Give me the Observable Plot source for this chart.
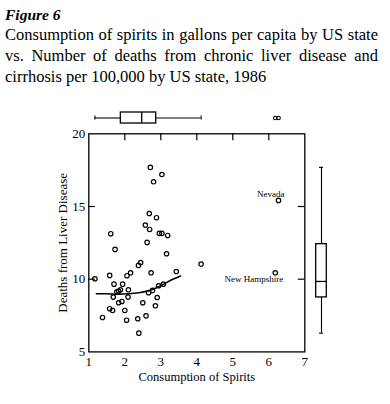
<!DOCTYPE html>
<html><head><meta charset="utf-8">
<script src="https://cdn.jsdelivr.net/npm/d3@7"></script>
<script src="https://cdn.jsdelivr.net/npm/@observablehq/plot@0.6"></script>
<style>
body{margin:0;background:#fff;}
#wrap{position:relative;width:390px;height:404px;font-family:"Liberation Serif","Times New Roman",serif;color:#000;overflow:hidden}
#fig{position:absolute;left:5px;top:6px;font-size:15.5px;font-weight:bold;font-style:italic;line-height:18px;}
#sub{position:absolute;left:5px;top:24px;width:373px;font-size:16.5px;line-height:21px;}
#sub div{white-space:nowrap}
#sub div.j{text-align:justify;text-align-last:justify;white-space:normal}
#main{position:absolute;left:0;top:95px;}
#topbox{position:absolute;left:0;top:110px}
#rightbox{position:absolute;left:313px;top:95px}
svg{background:transparent !important}
</style>
</head>
<body>
<div id="wrap">
  <div id="fig">Figure 6</div>
  <div id="sub">
    <div class="j">Consumption of spirits in gallons per capita by US state</div>
    <div class="j">vs. Number of deaths from chronic liver disease and</div>
    <div>cirrhosis per 100,000 by US state, 1986</div>
  </div>
  <div id="main"></div>
  <div id="topbox"></div>
  <div id="rightbox"></div>
</div>
<script>
// Data (one value per US state)
const spirits = [2.71, 3.03, 2.80, 6.27, 2.68, 2.88, 2.57, 2.69, 2.96, 3.03, 3.19, 1.61, 2.62, 1.73, 3.16, 2.44, 2.38, 4.12, 3.43, 2.73, 2.16, 2.06, 1.58, 1.17, 6.18, 1.70, 1.94, 3.07, 2.94, 2.10, 1.88, 1.78, 1.83, 2.77, 2.66, 1.68, 2.09, 2.90, 1.92, 1.83, 2.50, 2.85, 1.58, 1.66, 2.00, 1.38, 2.59, 2.36, 2.05, 2.39];
const deaths = [17.69, 17.2, 16.7, 15.42, 14.52, 14.23, 13.72, 13.42, 13.15, 13.15, 13.01, 13.13, 12.53, 12.05, 11.75, 11.15, 10.95, 11.04, 10.53, 10.44, 10.44, 10.24, 10.26, 10.03, 10.44, 9.66, 9.66, 9.66, 9.55, 9.27, 9.27, 9.13, 9.18, 9.23, 9.07, 8.77, 8.77, 8.74, 8.47, 8.38, 8.38, 8.17, 7.97, 7.85, 7.85, 7.37, 7.48, 7.28, 7.18, 6.29];
// smoothed curve
const smoothX = [1.21, 1.46, 1.83, 2.11, 2.39, 2.62, 2.85, 3.08, 3.32, 3.55];
const smoothY = [9.0, 9.0, 8.97, 9.0, 9.07, 9.18, 9.38, 9.66, 9.98, 10.22];
// labelled states
const labelNames = ["Nevada", "New Hampshire"];
const labelSpirits = [6.27, 6.18];
const labelDeaths = [15.42, 10.44];
// ticks
const xTicks = [1, 2, 3, 4, 5, 6, 7];
const yTicks = [5, 10, 15, 20];
const xInnerTicks = [2, 3, 4, 5, 6];
const yInnerTicks = [10, 15];
const xLabel = "Consumption of Spirits";
const yLabel = "Deaths from Liver Disease";

const points = spirits.map((s, i) => ({x: s, y: deaths[i]}));
const smooth = smoothX.map((s, i) => ({x: s, y: smoothY[i]}));
const labels = labelNames.map((n, i) => ({name: n, x: labelSpirits[i], y: labelDeaths[i]}));

function boxStats(v) {
  const s = [...v].sort(d3.ascending);
  const q1 = d3.quantile(s, 0.25), med = d3.quantile(s, 0.5), q3 = d3.quantile(s, 0.75);
  const iqr = q3 - q1;
  const lo = d3.min(s.filter(d => d >= q1 - 1.5 * iqr));
  const hi = d3.max(s.filter(d => d <= q3 + 1.5 * iqr));
  return {q1, med, q3, lo, hi, out: s.filter(d => d < lo || d > hi)};
}

const FONT = "'Liberation Serif','Times New Roman',serif";
const W = 390, H = 309, mL = 88.3, mR = 85.7, mT = 38.3, mB = 52.6;
const frameW = W - mL - mR, frameH = H - mT - mB;

const main = Plot.plot({
  width: W, height: H,
  marginLeft: mL, marginRight: mR, marginTop: mT, marginBottom: mB,
  style: {fontFamily: FONT, fontSize: "13px", color: "black", background: "transparent", overflow: "visible"},
  x: {domain: [1, 7]},
  y: {domain: [5, 20]},
  marks: [
    Plot.axisX(xTicks, {anchor: "bottom", tickSize: 0, tickPadding: 5, label: null, fontSize: 13}),
    Plot.axisY(yTicks, {anchor: "left", tickSize: 0, tickPadding: 3.5, label: null, fontSize: 13}),
    Plot.tickX(xInnerTicks, {x: d => d, insetBottom: frameH - 7, stroke: "black", strokeWidth: 1.2}),
    Plot.tickY(yInnerTicks, {y: d => d, insetRight: frameW - 6.5, stroke: "black", strokeWidth: 1.2}),
    Plot.tickY(yInnerTicks, {y: d => d, insetLeft: frameW - 6.5, stroke: "black", strokeWidth: 1.2}),
    Plot.frame({stroke: "black", strokeWidth: 1.3}),
    Plot.text([xLabel], {text: d => d, frameAnchor: "bottom", textAnchor: "middle", dy: 29, lineAnchor: "bottom", fontSize: 12.5, fill: "black"}),
    Plot.text([yLabel], {text: d => d, frameAnchor: "left", textAnchor: "middle", rotate: -90, dx: -22.3, lineAnchor: "bottom", fontSize: 13, fill: "black"}),
    Plot.line(smooth, {x: "x", y: "y", stroke: "black", strokeWidth: 1.6, curve: "monotone-x"}),
    Plot.dot(points, {x: "x", y: "y", r: 2.2, stroke: "black", strokeWidth: 1.2, fill: "none"}),
    Plot.text([labels[0]], {x: "x", y: "y", text: "name", textAnchor: "end", lineAnchor: "bottom", dx: 6, dy: -3.3, fontSize: 9, fill: "black"}),
    Plot.text([labels[1]], {x: "x", y: "y", text: "name", textAnchor: "end", lineAnchor: "bottom", dx: 8, dy: 9.4, fontSize: 9, fill: "black"})
  ]
});
document.getElementById("main").append(main);

// Top box plot for spirits
const sx = boxStats(spirits);
const topBox = Plot.plot({
  width: W, height: 15,
  marginLeft: mL, marginRight: mR, marginTop: 0, marginBottom: 0,
  style: {background: "transparent", overflow: "visible"},
  x: {domain: [1, 7], axis: null},
  y: {type: "band", domain: ["s"], padding: 0, axis: null},
  marks: [
    Plot.ruleY([sx], {y: () => "s", x1: "lo", x2: "q1", stroke: "black", strokeWidth: 1.1}),
    Plot.ruleY([sx], {y: () => "s", x1: "q3", x2: "hi", stroke: "black", strokeWidth: 1.1}),
    Plot.barX([sx], {y: () => "s", x1: "q1", x2: "q3", fill: "white", stroke: "black", strokeWidth: 1.3, insetTop: 2, insetBottom: 2}),
    Plot.tickX([sx], {y: () => "s", x: "med", stroke: "black", strokeWidth: 1.3, insetTop: 2, insetBottom: 2}),
    Plot.tickX([sx], {y: () => "s", x: "lo", stroke: "black", strokeWidth: 1.1, insetTop: 5.5, insetBottom: 5.5}),
    Plot.tickX([sx], {y: () => "s", x: "hi", stroke: "black", strokeWidth: 1.1, insetTop: 5.5, insetBottom: 5.5}),
    Plot.dot(sx.out, {x: d => d, y: () => "s", r: 1.8, stroke: "black", strokeWidth: 1.1, fill: "none"})
  ]
});
document.getElementById("topbox").append(topBox);

// Right box plot for deaths
const sy = boxStats(deaths);
const rightBox = Plot.plot({
  width: 16, height: H,
  marginLeft: 0, marginRight: 0, marginTop: mT, marginBottom: mB,
  style: {background: "transparent", overflow: "visible"},
  y: {domain: [5, 20], axis: null},
  x: {type: "band", domain: ["d"], padding: 0, axis: null},
  marks: [
    Plot.ruleX([sy], {x: () => "d", y1: "lo", y2: "q1", stroke: "black", strokeWidth: 1.1}),
    Plot.ruleX([sy], {x: () => "d", y1: "q3", y2: "hi", stroke: "black", strokeWidth: 1.1}),
    Plot.barY([sy], {x: () => "d", y1: "q1", y2: "q3", fill: "white", stroke: "black", strokeWidth: 1.3, insetLeft: 2.7, insetRight: 2.7}),
    Plot.tickY([sy], {x: () => "d", y: "med", stroke: "black", strokeWidth: 1.3, insetLeft: 2.7, insetRight: 2.7}),
    Plot.tickY([sy], {x: () => "d", y: "lo", stroke: "black", strokeWidth: 1.1, insetLeft: 6, insetRight: 6}),
    Plot.tickY([sy], {x: () => "d", y: "hi", stroke: "black", strokeWidth: 1.1, insetLeft: 6, insetRight: 6}),
    Plot.dot(sy.out, {y: d => d, x: () => "d", r: 1.8, stroke: "black", strokeWidth: 1.1, fill: "none"})
  ]
});
document.getElementById("rightbox").append(rightBox);
</script>
</body></html>
